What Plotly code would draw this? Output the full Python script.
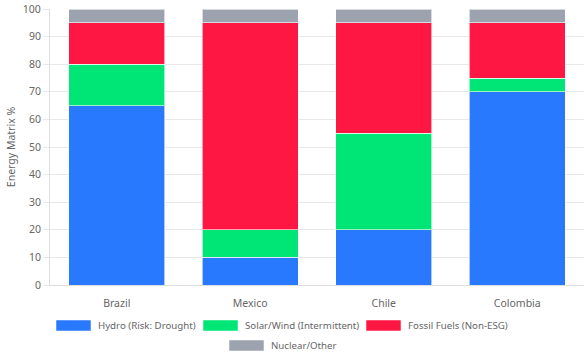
import plotly.graph_objects as go

countries = ["Brazil", "Mexico", "Chile", "Colombia"]
hydro = [65, 10, 20, 70]
solar_wind = [15, 10, 35, 5]
fossil = [15, 75, 40, 20]
nuclear = [5, 5, 5, 5]

series_names = ["Hydro (Risk: Drought)", "Solar/Wind (Intermittent)",
                "Fossil Fuels (Non-ESG)", "Nuclear/Other"]
series_values = [hydro, solar_wind, fossil, nuclear]
series_colors = ["#2979FF", "#00E676", "#FF1744", "#9CA3AF"]

W, H = 585, 360
L, R, T, B = 50, 1, 9, 75
PW, PH = W - L - R, H - T - B

def px_x(x):
    return (x - L) / PW

def px_y(y):
    return (H - B - y) / PH

fig = go.Figure()
for name, vals, color in zip(series_names, series_values, series_colors):
    fig.add_trace(go.Bar(
        x=countries, y=vals, name=name,
        marker=dict(color=color, line=dict(color="rgba(255,255,255,0.6)", width=1)),
        width=0.72, showlegend=False,
    ))

font_family = "Noto Sans, Open Sans, sans-serif"

# custom legend (Chart.js style: wide swatch + label), layout positions in pixels
legend_layout = [  # (swatch left px, row centre y px)
    (56, 325.5), (203, 325.5), (366, 325.5), (229, 345.5),
]
shapes = []
annotations = []
for (sx, sy), name, color in zip(legend_layout, series_names, series_colors):
    shapes.append(dict(type="rect", xref="paper", yref="paper",
                       x0=px_x(sx), x1=px_x(sx + 35), y0=px_y(sy + 5.5), y1=px_y(sy - 5.5),
                       fillcolor=color, line=dict(color="rgba(255,255,255,0.5)", width=1)))
    annotations.append(dict(xref="paper", yref="paper", x=px_x(sx + 40), y=px_y(sy),
                            xanchor="left", yanchor="middle", text=name, showarrow=False,
                            font=dict(size=9.7, color="#666666", family=font_family)))

fig.update_layout(
    barmode="stack",
    width=W, height=H,
    margin=dict(l=L, r=R, t=T, b=B, autoexpand=False),
    paper_bgcolor="white", plot_bgcolor="white",
    font=dict(family=font_family, size=11, color="#666666"),
    showlegend=False,
    shapes=shapes,
    annotations=annotations,
)
fig.update_yaxes(
    range=[0, 100], dtick=10, showgrid=True, gridcolor="#E8E8E8", gridwidth=1,
    showline=True, linecolor="#DDDDDD", ticks="outside", ticklen=6, tickcolor="#E8E8E8",
    zeroline=False, automargin=False,
    tickfont=dict(size=10.5, color="#666666"),
    title=dict(text="Energy Matrix %", font=dict(size=10.5, color="#666666"), standoff=5),
)
fig.update_xaxes(
    showgrid=False, showline=True, linecolor="#DDDDDD", ticks="outside", ticklen=8,
    tickcolor="rgba(0,0,0,0)", automargin=False,
    tickfont=dict(size=10.5, color="#666666"),
)

fig.write_html("out.html", config={"displayModeBar": False},
               post_script="document.body.style.margin='0';document.body.style.padding='0';")
